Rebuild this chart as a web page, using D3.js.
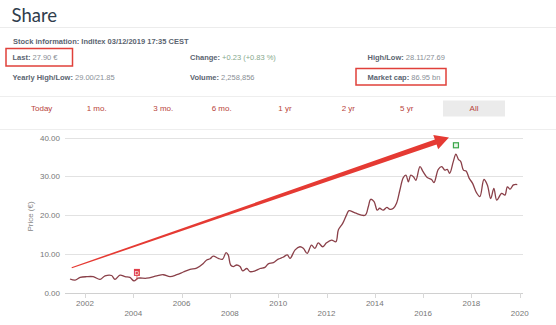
<!DOCTYPE html>
<html><head><meta charset="utf-8">
<script src="https://cdn.jsdelivr.net/npm/d3@7"></script>
<style>
html,body{margin:0;padding:0;background:#fff;}
svg{display:block;}
text{font-family:"Liberation Sans",Arial,sans-serif;}
</style></head>
<body><svg id="c" width="556" height="325"></svg>
<script>
// ---- data ----
const years = [2001.38,2001.59,2001.8,2002.07,2002.34,2002.62,2002.83,2003.1,2003.24,2003.45,2003.66,2003.86,2004.03,2004.2,2004.55,2004.97,2005.24,2005.52,2005.8,2006.07,2006.35,2006.62,2006.9,2007.04,2007.18,2007.31,2007.52,2007.7,2007.84,2007.93,2008.03,2008.14,2008.28,2008.42,2008.53,2008.7,2008.83,2009.04,2009.25,2009.45,2009.59,2009.8,2010.0,2010.2,2010.38,2010.49,2010.7,2010.9,2011.04,2011.2,2011.38,2011.52,2011.66,2011.84,2012.0,2012.21,2012.39,2012.49,2012.67,2012.83,2012.93,2013.18,2013.6,2013.73,2013.83,2013.97,2014.1,2014.2,2014.35,2014.5,2014.63,2014.77,2014.9,2015.04,2015.18,2015.29,2015.39,2015.49,2015.6,2015.7,2015.87,2016.0,2016.17,2016.35,2016.45,2016.63,2016.77,2016.9,2017.0,2017.1,2017.25,2017.36,2017.46,2017.56,2017.67,2017.78,2017.91,2018.05,2018.21,2018.35,2018.52,2018.66,2018.8,2018.93,2019.05,2019.25,2019.39,2019.49,2019.6,2019.74,2019.9];
const prices = [3.6,3.3,4.0,4.2,4.2,3.5,4.4,4.5,3.5,4.6,4.2,4.0,3.1,3.8,3.8,4.4,4.7,4.2,4.7,5.4,6.1,6.4,7.6,8.5,8.8,9.5,8.9,8.7,10.4,9.8,7.2,6.8,7.2,6.8,5.7,6.3,5.5,5.7,6.3,6.6,7.5,7.8,8.7,9.2,9.8,8.9,11.1,11.9,11.5,10.2,12.3,11.5,12.9,11.9,12.9,13.6,13.2,16.2,17.9,20.1,21.2,20.6,20.0,22.2,24.1,23.5,21.3,21.8,21.3,22.0,21.5,21.8,23.1,26.5,29.7,30.3,28.6,30.3,29.9,29.0,32.5,31.2,29.7,29.2,28.4,31.8,32.5,31.6,31.8,30.8,33.8,35.7,34.4,33.8,31.6,31.4,29.5,28.2,25.8,24.8,29.2,27.8,24.3,26.9,23.9,25.6,25.2,27.3,26.7,27.8,27.9];
const yTicks = [0,10,20,30,40];
const xTicks = [2002,2004,2006,2008,2010,2012,2014,2016,2018,2020];
const tabs = ["Today","1 mo.","3 mo.","6 mo.","1 yr","2 yr","5 yr","All"];
const markerYears = [2004.15, 2017.36];
const markerPrices = [5.3, 38.0];
const arrowFrom = [2001.45, 6.5];
const arrowTo = [2017.07, 40.0];

// ---- layout ----
const tabCenters = [41.7,96.7,163.3,221.7,285,348.3,406.7,474];
const svg = d3.select("#c");
const x = d3.scaleLinear().domain([2002,2020]).range([85,519.7]);
const y = d3.scaleLinear().domain([0,40]).range([293,137.5]);

// header
svg.append("text").attr("x",11.5).attr("y",21.5).text("Share")
  .style("font-family","Lato, 'Open Sans', sans-serif").style("font-size","18.5px").attr("fill","#2f3d4c");
svg.append("line").attr("x1",0).attr("x2",556).attr("y1",27.5).attr("y2",27.5).attr("stroke","#ececec");

svg.append("text").attr("x",13).attr("y",43.5).text("Stock information: Inditex 03/12/2019 17:35 CEST")
  .style("font-size","7.5px").style("font-weight","bold").attr("fill","#5a6470");

function info(xp, yp, label, value, vcol){
  const t = svg.append("text").attr("x",xp).attr("y",yp).style("font-size","7.5px");
  t.append("tspan").text(label).style("font-weight","bold").attr("fill","#5a6470");
  t.append("tspan").text(" "+value).attr("fill", vcol||"#8a8f96");
}
info(12.5,60,"Last:","27.90 €");
info(190,60,"Change:","+0.23 (+0.83 %)","#86a88c");
info(367.5,60,"High/Low:","28.11/27.69");
info(12.5,80,"Yearly High/Low:","29.00/21.85");
info(190,80,"Volume:","2,258,856");
info(367.5,80,"Market cap:","86.95 bn");

svg.append("rect").attr("x",6).attr("y",48.5).attr("width",66.5).attr("height",17.5)
  .attr("fill","none").attr("stroke","#e0403a").attr("stroke-width",1.5);
svg.append("rect").attr("x",356).attr("y",68.5).attr("width",90).attr("height",16.5)
  .attr("fill","none").attr("stroke","#e0403a").attr("stroke-width",1.5);

// tabs
svg.append("line").attr("x1",0).attr("x2",556).attr("y1",96.5).attr("y2",96.5).attr("stroke","#eeeeee");
svg.append("line").attr("x1",0).attr("x2",556).attr("y1",129.5).attr("y2",129.5).attr("stroke","#eeeeee");
svg.append("rect").attr("x",443).attr("y",100.5).attr("width",62).attr("height",16).attr("fill","#ebebeb");
svg.selectAll("text.tab").data(tabs).join("text").attr("class","tab")
  .attr("x",(d,i)=>tabCenters[i]).attr("y",111).attr("text-anchor","middle")
  .style("font-size","8px").attr("fill","#b8433a").text(d=>d);

// grid + y axis
svg.selectAll("line.grid").data(yTicks).join("line").attr("class","grid")
  .attr("x1",65).attr("x2",523).attr("y1",d=>Math.round(y(d))+0.5).attr("y2",d=>Math.round(y(d))+0.5)
  .attr("stroke",d=>d===0?"#d0d0d0":"#e2e2e2");
svg.selectAll("text.yl").data(yTicks).join("text").attr("class","yl")
  .attr("x",60).attr("y",d=>y(d)+3).attr("text-anchor","end")
  .style("font-size","8px").attr("fill","#777").text(d=>d3.format(".2f")(d));
svg.append("text").attr("transform","translate(33,216.5) rotate(-90)").attr("text-anchor","middle")
  .style("font-size","8px").attr("fill","#888").text("Price (€)");

// x axis
svg.selectAll("line.xt").data(xTicks).join("line").attr("class","xt")
  .attr("x1",d=>Math.round(x(d))+0.5).attr("x2",d=>Math.round(x(d))+0.5).attr("y1",293).attr("y2",298)
  .attr("stroke","#d8d8d8");
svg.selectAll("text.xl").data(xTicks).join("text").attr("class","xl")
  .attr("x",d=>x(d)).attr("y",(d,i)=>i%2===0?306:316).attr("text-anchor","middle")
  .style("font-size","8px").attr("fill","#777").text(d=>d);

// price line
const pts = years.map((d,i)=>[d,prices[i]]);
svg.append("path").datum(pts)
  .attr("d", d3.line().x(d=>x(d[0])).y(d=>y(d[1])).curve(d3.curveCatmullRom.alpha(0.5)))
  .attr("fill","none").attr("stroke","#8a4049").attr("stroke-width",1.3);

// markers
const m0x = x(markerYears[0]), m0y = y(markerPrices[0]);
svg.append("line").attr("x1",m0x).attr("x2",m0x).attr("y1",m0y).attr("y2",y(3.4)).attr("stroke","#e05050").attr("stroke-width",0.8);
svg.append("rect").attr("x",m0x-3).attr("y",m0y-3.5).attr("width",6).attr("height",7).attr("fill","#e0404a");
svg.append("text").attr("x",m0x).attr("y",m0y+2.5).attr("text-anchor","middle").style("font-size","6px").attr("fill","#fff").text("D");
const m1x = x(markerYears[1]), m1y = y(markerPrices[1]);
svg.append("rect").attr("x",m1x-2.5).attr("y",m1y-2.5).attr("width",5).attr("height",5)
  .attr("fill","#e8f5e8").attr("stroke","#3aa64a").attr("stroke-width",1.2);

// arrow
const ax0 = x(arrowFrom[0]), ay0 = y(arrowFrom[1]);
const ax1 = x(arrowTo[0]), ay1 = y(arrowTo[1]);
const L = Math.hypot(ax1-ax0, ay1-ay0);
const ux = (ax1-ax0)/L, uy = (ay1-ay0)/L, px = -uy, py = ux;
const headLen = 14, headW = 7.5, w0 = 0.6, w1 = 2.6;
const bx = ax1-ux*headLen, by = ay1-uy*headLen;
const poly = [
  [ax0+px*w0, ay0+py*w0],
  [bx+px*w1, by+py*w1],
  [bx+px*headW, by+py*headW],
  [ax1, ay1],
  [bx-px*headW, by-py*headW],
  [bx-px*w1, by-py*w1],
  [ax0-px*w0, ay0-py*w0]
];
svg.append("path").attr("d","M"+poly.map(p=>p.join(",")).join("L")+"Z").attr("fill","#e53a33");
</script></body></html>
